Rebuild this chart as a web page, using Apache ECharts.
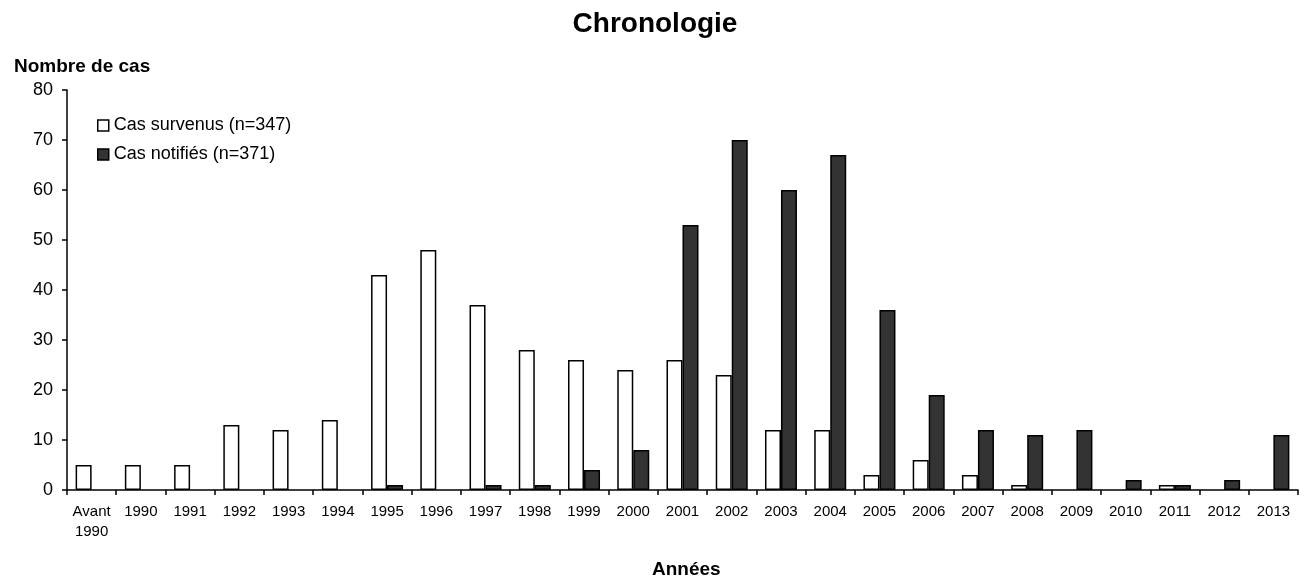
<!DOCTYPE html>
<html>
<head>
<meta charset="utf-8">
<script src="https://cdn.jsdelivr.net/npm/echarts@6/dist/echarts.min.js"></script>
<style>html,body{margin:0;padding:0;background:#fff}#c{width:1310px;height:578px}</style>
</head>
<body>
<div id="c"></div>
<script>
const categories = ['Avant\n1990','1990','1991','1992','1993','1994','1995','1996','1997','1998','1999','2000','2001','2002','2003','2004','2005','2006','2007','2008','2009','2010','2011','2012','2013'];
const casSurvenus = [5,5,5,13,12,14,43,48,37,28,26,24,26,23,12,12,3,6,3,1,0,0,1,0,0];
const casNotifies = [0,0,0,0,0,0,1,0,1,1,4,8,53,70,60,67,36,19,12,11,12,2,1,2,11];
const seriesNames = ['Cas survenus (n=347)','Cas notifiés (n=371)'];
const yTicks = {min:0,max:80,interval:10};

// zero values are not drawn (no empty outline)
const hideZero = arr => arr.map(v => (v === 0 ? null : v));

const font = 'Liberation Sans, Arial, sans-serif';
const chart = echarts.init(document.getElementById('c'));
chart.setOption({
  animation:false,
  backgroundColor:'#fff',
  title:[
    {text:'Chronologie',left:'center',top:5,textStyle:{fontFamily:font,fontSize:28,fontWeight:'bold',color:'#000'}},
    {text:'Nombre de cas',left:9,top:52,textStyle:{fontFamily:font,fontSize:19,fontWeight:'bold',color:'#000'}},
    {text:'Années',left:647,top:555,textStyle:{fontFamily:font,fontSize:19,fontWeight:'bold',color:'#000'}}
  ],
  legend:{
    orient:'vertical',left:92,top:111,itemWidth:11,itemHeight:11,itemGap:10,
    textStyle:{fontFamily:font,fontSize:18,color:'#000',lineHeight:19},
    data:[
      {name:seriesNames[0],icon:'rect',itemStyle:{color:'#fff',borderColor:'#000',borderWidth:1.5}},
      {name:seriesNames[1],icon:'rect',itemStyle:{color:'#333',borderColor:'#000',borderWidth:1.5}}
    ]
  },
  grid:{left:67,right:12,top:90,bottom:88},
  xAxis:{
    type:'category',data:categories,
    axisLine:{lineStyle:{color:'#000',width:1.5}},
    axisTick:{show:true,length:5,lineStyle:{color:'#000',width:1.5}},
    axisLabel:{fontFamily:font,fontSize:15,color:'#000',margin:12,lineHeight:20,interval:0}
  },
  yAxis:{
    type:'value',min:yTicks.min,max:yTicks.max,interval:yTicks.interval,
    axisLine:{show:true,lineStyle:{color:'#000',width:1.5}},
    axisTick:{show:true,length:5,lineStyle:{color:'#000',width:1.5}},
    splitLine:{show:false},
    axisLabel:{fontFamily:font,fontSize:18,color:'#000',margin:14}
  },
  series:[
    {name:seriesNames[0],type:'bar',data:hideZero(casSurvenus),barGap:'0%',barCategoryGap:'35%',
     itemStyle:{color:'#fff',borderColor:'#000',borderWidth:1.5}},
    {name:seriesNames[1],type:'bar',data:hideZero(casNotifies),barGap:'0%',barCategoryGap:'35%',
     itemStyle:{color:'#333',borderColor:'#000',borderWidth:1.5}}
  ]
});
</script>
</body>
</html>
